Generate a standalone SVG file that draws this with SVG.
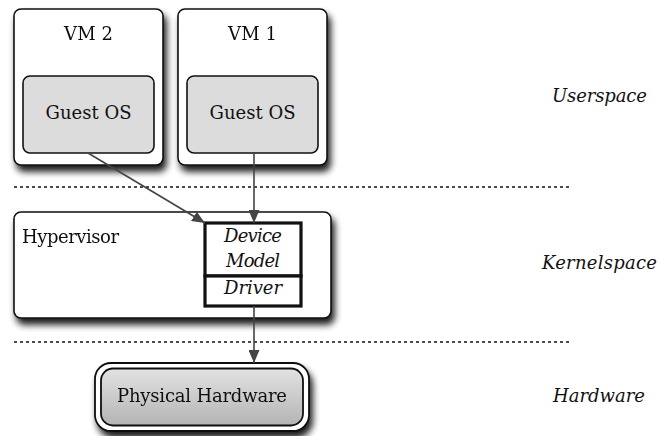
<svg xmlns="http://www.w3.org/2000/svg" width="660" height="436" viewBox="0 0 660 436">
  <style>
    text { font-family: "DejaVu Serif", "Liberation Serif", "Noto Serif", serif; font-size: 18px; fill: #111; }
    .it { font-style: italic; }
    .box { fill: #fff; stroke: #111; stroke-width: 1.6; }
    .guest { fill: #dcdcdc; stroke: #111; stroke-width: 1.6; }
    .thick { fill: #fff; stroke: #111; stroke-width: 3.2; }
    .sep { stroke: #111; stroke-width: 1.6; stroke-dasharray: 3 3; fill: none; }
    .edge { stroke: #444; stroke-width: 1.6; fill: none; marker-end: url(#arrow); }
  </style>
  <defs>
    <filter id="shadow" x="-20%" y="-20%" width="150%" height="150%">
      <feGaussianBlur in="SourceAlpha" stdDeviation="3.5"/>
      <feOffset dx="3" dy="6" result="b"/>
      <feComponentTransfer><feFuncA type="linear" slope="0.9"/></feComponentTransfer>
      <feMerge><feMergeNode/><feMergeNode in="SourceGraphic"/></feMerge>
    </filter>
    <marker id="arrow" viewBox="0 0 13 11" refX="13" refY="5.5" markerWidth="13" markerHeight="11" markerUnits="userSpaceOnUse" orient="auto">
      <path d="M0,0 L13,5.5 L0,11 z" fill="#444"/>
    </marker>
    <linearGradient id="hwFill" x1="0" y1="0" x2="0" y2="1">
      <stop offset="0" stop-color="#e2e2e2"/>
      <stop offset="1" stop-color="#b4b4b4"/>
    </linearGradient>
  </defs>

  <!-- layer separators -->
  <line class="sep" x1="14" y1="187" x2="570" y2="187"/>
  <line class="sep" x1="14" y1="342" x2="570" y2="342"/>

  <!-- layer names -->
  <text class="it" x="552" y="102" textLength="95">Userspace</text>
  <text class="it" x="542" y="269" textLength="115">Kernelspace</text>
  <text class="it" x="553" y="402" textLength="92">Hardware</text>

  <g id="vm2" filter="url(#shadow)">
    <rect class="box" x="14" y="9" width="149" height="156" rx="7"/>
    <text x="88.5" y="40" text-anchor="middle" textLength="49">VM 2</text>
  </g>
  <g id="guest2">
    <rect class="guest" x="23" y="76" width="131" height="77" rx="7"/>
    <text x="88.5" y="119" text-anchor="middle" textLength="86">Guest OS</text>
  </g>

  <g id="vm1" filter="url(#shadow)">
    <rect class="box" x="178" y="9" width="149" height="156" rx="7"/>
    <text x="252.5" y="40" text-anchor="middle" textLength="49">VM 1</text>
  </g>
  <g id="guest1">
    <rect class="guest" x="187" y="76" width="131" height="77" rx="7"/>
    <text x="252.5" y="119" text-anchor="middle" textLength="86">Guest OS</text>
  </g>

  <g id="hypervisor" filter="url(#shadow)">
    <rect class="box" x="14" y="212" width="317" height="106" rx="7"/>
    <text x="22" y="243" textLength="97">Hypervisor</text>
  </g>

  <g id="device-model">
    <rect class="thick" x="205" y="223" width="96" height="53"/>
    <text class="it" x="253" y="242" text-anchor="middle" textLength="58">Device</text>
    <text class="it" x="253" y="267" text-anchor="middle" textLength="54">Model</text>
  </g>
  <g id="driver">
    <rect class="thick" x="205" y="276" width="96" height="30"/>
    <text class="it" x="253" y="294" text-anchor="middle" textLength="58">Driver</text>
  </g>

  <g id="physical-hardware" filter="url(#shadow)">
    <rect x="95" y="363" width="214" height="68" rx="16" fill="#fff" stroke="#111" stroke-width="1.8"/>
    <rect x="101" y="368.5" width="202" height="57" rx="12" fill="url(#hwFill)" stroke="#111" stroke-width="1.8"/>
    <text x="202" y="402" text-anchor="middle" textLength="170">Physical Hardware</text>
  </g>

  <g id="connectors">
    <line class="edge" x1="88" y1="153" x2="205" y2="223"/>
    <line class="edge" x1="254" y1="153" x2="254" y2="223"/>
    <line class="edge" x1="254" y1="306" x2="254" y2="363"/>
  </g>
</svg>
